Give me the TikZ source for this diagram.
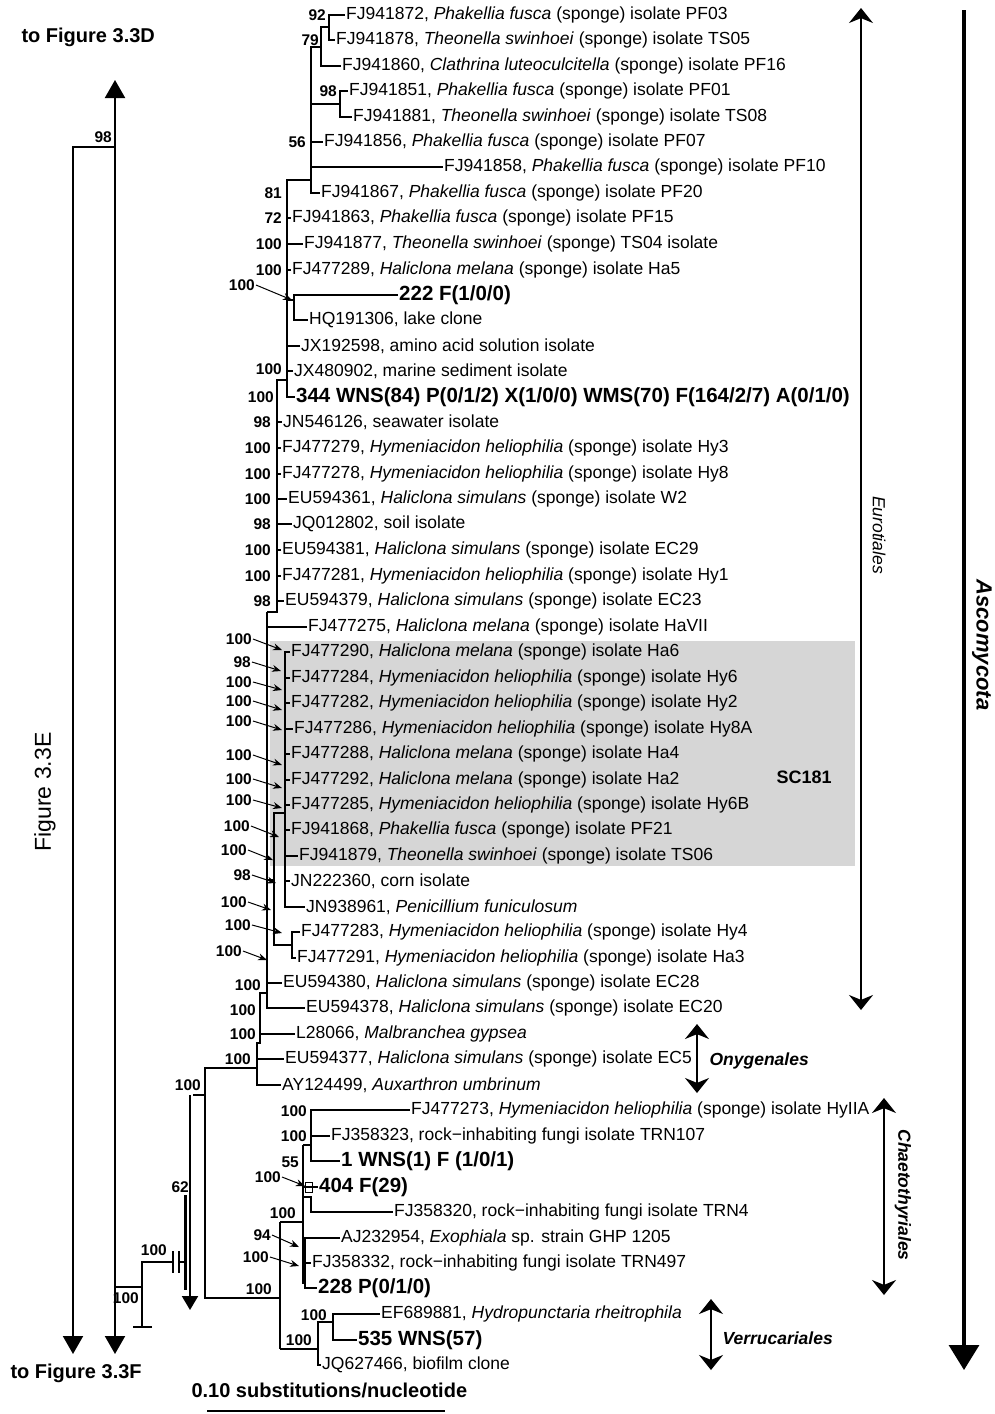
\documentclass[tikz,border=0pt]{standalone}
\usepackage{fontspec}
\setmainfont{Liberation Sans}
\usetikzlibrary{arrows.meta}

\begin{document}
\begin{tikzpicture}[x=1pt, y=-1pt, line cap=butt,
    br/.style={line width=2.1pt},
    tip/.style={anchor=west, inner sep=1pt, font=\fontsize{17.5}{20}\selectfont},
    tipb/.style={anchor=west, inner sep=1pt, font=\fontsize{20.5}{24}\selectfont\bfseries},
    boot/.style={anchor=east, inner sep=1pt, font=\fontsize{15.5}{18}\selectfont\bfseries},
    ptr/.style={line width=1pt, -{Stealth[length=9pt,width=7pt]}},
    clade/.style={line width=1.8pt, {Stealth[length=15pt,width=24pt]}-{Stealth[length=15pt,width=24pt]}},
    grp/.style={font=\fontsize{17.5}{20}\selectfont\bfseries\itshape}]
  \useasboundingbox (0,0) rectangle (995,1414);

  % shaded SC181 clade
  \fill[black!16] (270,641) rectangle (855,866);

  % tips
  \node[tip] (t1) at (345,15) {FJ941872, \textit{Phakellia fusca} (sponge) isolate PF03};
  \node[tip] (t2) at (335,40) {FJ941878, \textit{Theonella swinhoei} (sponge) isolate TS05};
  \node[tip] (t3) at (341,66) {FJ941860, \textit{Clathrina luteoculcitella} (sponge) isolate PF16};
  \node[tip] (t4) at (348,91) {FJ941851, \textit{Phakellia fusca} (sponge) isolate PF01};
  \node[tip] (t5) at (352,117) {FJ941881, \textit{Theonella swinhoei} (sponge) isolate TS08};
  \node[tip] (t6) at (323,142) {FJ941856, \textit{Phakellia fusca} (sponge) isolate PF07};
  \node[tip] (t7) at (443,167) {FJ941858, \textit{Phakellia fusca} (sponge) isolate PF10};
  \node[tip] (t8) at (320,193) {FJ941867, \textit{Phakellia fusca} (sponge) isolate PF20};
  \node[tip] (t9) at (291,218) {FJ941863, \textit{Phakellia fusca} (sponge) isolate PF15};
  \node[tip] (t10) at (303,244) {FJ941877, \textit{Theonella swinhoei} (sponge) TS04 isolate};
  \node[tip] (t11) at (291,270) {FJ477289, \textit{Haliclona melana} (sponge) isolate Ha5};
  \node[tipb] (t12) at (398,295) {222 F(1/0/0)};
  \node[tip] (t13) at (308,320) {HQ191306, lake clone};
  \node[tip] (t14) at (300,346) {JX192598, amino acid solution isolate};
  \node[tip] (t15) at (293,371) {JX480902, marine sediment isolate};
  \node[tipb] (t16) at (295,397) {344 WNS(84) P(0/1/2) X(1/0/0) WMS(70) F(164/2/7) A(0/1/0)};
  \node[tip] (t17) at (282,422) {JN546126, seawater isolate};
  \node[tip] (t18) at (281,448) {FJ477279, \textit{Hymeniacidon heliophilia} (sponge) isolate Hy3};
  \node[tip] (t19) at (281,474) {FJ477278, \textit{Hymeniacidon heliophilia} (sponge) isolate Hy8};
  \node[tip] (t20) at (287,499) {EU594361, \textit{Haliclona simulans} (sponge) isolate W2};
  \node[tip] (t21) at (292,524) {JQ012802, soil isolate};
  \node[tip] (t22) at (281,550) {EU594381, \textit{Haliclona simulans} (sponge) isolate EC29};
  \node[tip] (t23) at (281,576) {FJ477281, \textit{Hymeniacidon heliophilia} (sponge) isolate Hy1};
  \node[tip] (t24) at (284,601) {EU594379, \textit{Haliclona simulans} (sponge) isolate EC23};
  \node[tip] (t25) at (307,627) {FJ477275, \textit{Haliclona melana} (sponge) isolate HaVII};
  \node[tip] (t26) at (290,652) {FJ477290, \textit{Haliclona melana} (sponge) isolate Ha6};
  \node[tip] (t27) at (290,678) {FJ477284, \textit{Hymeniacidon heliophilia} (sponge) isolate Hy6};
  \node[tip] (t28) at (290,703) {FJ477282, \textit{Hymeniacidon heliophilia} (sponge) isolate Hy2};
  \node[tip] (t29) at (293,729) {FJ477286, \textit{Hymeniacidon heliophilia} (sponge) isolate Hy8A};
  \node[tip] (t30) at (290,754) {FJ477288, \textit{Haliclona melana} (sponge) isolate Ha4};
  \node[tip] (t31) at (290,780) {FJ477292, \textit{Haliclona melana} (sponge) isolate Ha2};
  \node[tip] (t32) at (290,805) {FJ477285, \textit{Hymeniacidon heliophilia} (sponge) isolate Hy6B};
  \node[tip] (t33) at (290,830) {FJ941868, \textit{Phakellia fusca} (sponge) isolate PF21};
  \node[tip] (t34) at (298,856) {FJ941879, \textit{Theonella swinhoei} (sponge) isolate TS06};
  \node[tip] (t35) at (290,881) {JN222360, corn isolate};
  \node[tip] (t36) at (305,907) {JN938961, \textit{Penicillium funiculosum}};
  \node[tip] (t37) at (300,932) {FJ477283, \textit{Hymeniacidon heliophilia} (sponge) isolate Hy4};
  \node[tip] (t38) at (296,958) {FJ477291, \textit{Hymeniacidon heliophilia} (sponge) isolate Ha3};
  \node[tip] (t39) at (282,983) {EU594380, \textit{Haliclona simulans} (sponge) isolate EC28};
  \node[tip] (t40) at (305,1008) {EU594378, \textit{Haliclona simulans} (sponge) isolate EC20};
  \node[tip] (t41) at (295,1034) {L28066, \textit{Malbranchea gypsea}};
  \node[tip] (t42) at (284,1059) {EU594377, \textit{Haliclona simulans} (sponge) isolate EC5};
  \node[tip] (t43) at (281,1085) {AY124499, \textit{Auxarthron umbrinum}};
  \node[tip] (t44) at (410,1110) {FJ477273, \textit{Hymeniacidon heliophilia} (sponge) isolate HyIIA};
  \node[tip] (t45) at (330,1136) {FJ358323, rock−inhabiting fungi isolate TRN107};
  \node[tipb] (t46) at (340,1161) {1 WNS(1) F (1/0/1)};
  \node[tipb] (t47) at (318,1187) {404 F(29)};
  \node[tip] (t48) at (393,1212) {FJ358320, rock−inhabiting fungi isolate TRN4};
  \node[tip] (t49) at (340,1238) {AJ232954, \textit{Exophiala} sp. strain GHP 1205};
  \node[tip] (t50) at (311,1263) {FJ358332, rock−inhabiting fungi isolate TRN497};
  \node[tipb] (t51) at (317,1288) {228 P(0/1/0)};
  \node[tip] (t52) at (380,1314) {EF689881, \textit{Hydropunctaria rheitrophila}};
  \node[tipb] (t53) at (357,1340) {535 WNS(57)};
  \node[tip] (t54) at (321,1365) {JQ627466, biofilm clone};

  % Eurotiales, upper part
  \draw[br] (t1.west) -| (329,40) -- (t2.west);
  \draw[br] (329,27) -- (321,27) |- (t3.west);
  \draw[br] (t4.west) -| (340,117) -- (t5.west);
  \draw[br] (321,47) -- (311,47) |- (t8.west);
  \draw[br] (311,104) -- (340,104);
  \draw[br] (311,142) -- (t6.west);
  \draw[br] (311,167) -- (t7.west);
  \draw[br] (311,180) -- (287,180) |- (t16.west);
  \draw[br] (287,218) -- (t9.west);
  \draw[br] (287,244) -- (t10.west);
  \draw[br] (287,270) -- (t11.west);
  \draw[br] (287,300) -- (294,300);
  \draw[br] (t12.west) -| (294,320) -- (t13.west);
  \draw[br] (287,346) -- (t14.west);
  \draw[br] (287,371) -- (t15.west);
  \draw[br] (287,380) -- (277,380) -- (277,612) -- (267,612);
  \foreach \n/\y in {17/422,18/448,19/474,20/499,21/524,22/550,23/576,24/601}
    \draw[br] (277,\y) -- (t\n.west);

  % SC181 and neighbours
  \draw[br] (t26.west) -- (285,652) -- (285,907) -- (t36.west);
  \foreach \n/\y in {27/678,28/703,29/729,30/754,31/780,32/805,33/830,34/856,35/881}
    \draw[br] (285,\y) -- (t\n.west);
  \draw[br] (285,813) -- (274,813) -- (274,945) -- (292,945);
  \draw[br] (t37.west) -| (292,958) -- (t38.west);
  \draw[br] (274,880) -- (267,880);
  \draw[br] (267,612) |- (t40.west);
  \draw[br] (267,627) -- (t25.west);
  \draw[br] (267,983) -- (t39.west);
  \draw[br] (267,993) -- (260,993) |- (t41.west);
  \draw[br] (260,1034) -- (260,1043) -- (257,1043) |- (t43.west);
  \draw[br] (257,1059) -- (t42.west);
  \draw[br] (257,1068) -- (205,1068) -- (205,1298) -- (280,1298);

  % Chaetothyriales
  \draw[br] (280,1222) -- (280,1349);
  \draw[br] (280,1222) -- (303,1222);
  \draw[line width=2.8pt] (303,1145) -- (303,1284);
  \draw[br] (303,1145) -- (311,1145);
  \draw[br] (t44.west) -| (311,1161) -- (t46.west);
  \draw[br] (311,1136) -- (t45.west);
  \draw[br] (303,1187) -- (t47.west);
  \draw[line width=1pt] (305,1182) rectangle (312,1192);
  \draw[br] (303,1197) -- (311,1197) |- (t48.west);
  \draw[br] (t49.west) -| (305,1288) -- (t51.west);
  \draw[br] (305,1263) -- (t50.west);

  % Verrucariales
  \draw[br] (280,1349) -- (318,1349);
  \draw[br] (333,1322) -- (318,1322) |- (t54.west);
  \draw[br] (t52.west) -| (333,1340) -- (t53.west);

  % links to the other panels
  \draw[br] (193,1095) -- (205,1095);
  \draw[br, -{Triangle[length=14pt,width=16pt]}] (190,1095) -- (190,1310);
  \draw[line width=3pt] (185,1195) -- (185,1290);
  \draw[br, {Triangle[length=18pt,width=20pt]}-{Triangle[length=18pt,width=20pt]}] (115,80) -- (115,1354);
  \draw[br, -{Triangle[length=18pt,width=20pt]}] (115,147) -- (73,147) -- (73,1354);
  \draw[br] (115,1287) -- (142,1287);
  \draw[br] (152,1327) -- (133,1327);
  \draw[br] (142,1327) -- (142,1262) -- (173,1262);
  \draw[br] (173,1251) -- (173,1273);
  \draw[br] (179,1251) -- (179,1273);
  \draw[br] (179,1262) -- (185,1262);

  % bootstrap values
  \foreach \x/\y/\v [count=\i] in {327/15/92, 320/40/79, 338/91/98, 307/142/56,
      283/193/81, 283/218/72, 283/244/100, 283/270/100, 283/369/100, 275/397/100,
      272/422/98, 272/448/100, 272/474/100, 272/499/100, 272/524/98, 272/550/100,
      272/576/100, 272/601/98, 262/985/100, 257/1010/100, 257/1034/100,
      252/1059/100, 202/1085/100, 308/1111/100, 308/1136/100, 300/1162/55,
      297/1213/100, 190/1187/62, 168/1250/100, 140/1298/100, 273/1289/100,
      328/1315/100, 313/1340/100, 113/137/98}
    \node[boot] (b\i) at (\x,\y) {\v};
  \foreach \x/\y/\tx/\ty/\v [count=\i] in {256/285/292/300/100, 253/639/282/650/100,
      252/662/281/671/98, 253/682/282/690/100, 253/701/282/710/100,
      253/721/282/730/100, 253/755/282/765/100, 253/779/282/788/100,
      253/800/282/808/100, 251/826/279/837/100, 248/850/273/860/100,
      252/875/276/883/98, 248/902/271/910/100, 252/925/282/933/100,
      243/951/267/960/100, 282/1177/305/1186/100, 272/1235/299/1247/94,
      270/1257/299/1266/100}
  {
    \node[boot] (a\i) at (\x,\y) {\v};
    \draw[ptr] (a\i.east) -- (\tx,\ty);
  }

  % groups
  \node[font=\bfseries\fontsize{18}{21}\selectfont, anchor=west] (sc) at (773,777) {SC181};
  \draw[clade] (861,8) -- (861,1010);
  \node[font=\fontsize{17.5}{20}\selectfont\itshape, rotate=-90] (euro) at (879,535) {Eurotiales};
  \draw[clade] (697,1024) -- (697,1093);
  \node[grp, anchor=west] (ony) at (706,1061) {Onygenales};
  \draw[clade] (884,1098) -- (884,1295);
  \node[grp, rotate=-90] (chaeto) at (903,1195) {Chaetothyriales};
  \draw[clade] (711,1299) -- (711,1370);
  \node[grp, anchor=west] (verr) at (719,1338) {Verrucariales};
  \draw[line width=3.2pt, -{Triangle[length=25pt,width=30pt]}] (964,10) -- (964,1370);
  \node[font=\fontsize{22}{26}\selectfont\bfseries\itshape, rotate=-90, inner sep=1pt] (asco) at (982,645) {Ascomycota};

  % panel labels and scale
  \node[font=\fontsize{20}{24}\selectfont\bfseries, anchor=west] (figD) at (18,37) {to Figure 3.3D};
  \node[font=\fontsize{20}{24}\selectfont\bfseries, anchor=west] (figF) at (7,1373) {to Figure 3.3F};
  \node[font=\fontsize{23}{27}\selectfont, rotate=90] (figE) at (45,792) {Figure 3.3E};
  \node[font=\fontsize{20}{24}\selectfont\bfseries, anchor=west] (scale) at (188,1390) {0.10 substitutions/nucleotide};
  \draw[line width=1.5pt] (207,1411) -- (445,1411);
\end{tikzpicture}
\end{document}
